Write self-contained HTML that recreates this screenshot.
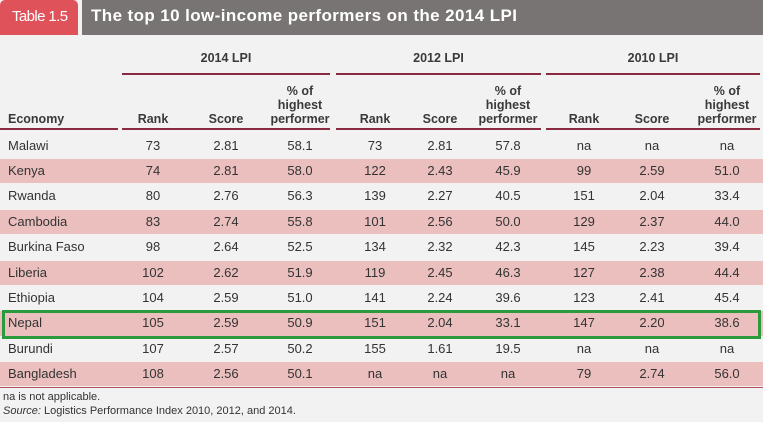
<!DOCTYPE html>
<html><head><meta charset="utf-8">
<style>
body{margin:0;width:763px;height:422px;background:#f3f2f2;position:relative;overflow:hidden;font-family:"Liberation Sans Narrow","Liberation Sans",sans-serif;color:#333;}
.a{position:absolute;white-space:nowrap;}
.h{font-weight:bold;font-size:12.5px;color:#3a3a3a;line-height:14px;}
.c{font-size:13px;}
.ln{position:absolute;height:1.5px;background:#8a2a40;}
</style></head>
<body>
<div class="a" style="left:0;top:0;width:78px;height:35px;background:#e0525a;border-radius:5px 5px 0 0;"></div>
<div class="a" style="left:12px;top:8px;color:#fff;font-size:15px;letter-spacing:-0.6px;">Table 1.5</div>
<div class="a" style="left:82px;top:0;width:681px;height:35px;background:#777473;"></div>
<div class="a" style="left:91px;top:6px;color:#fff;font-size:17px;font-weight:bold;font-family:'Liberation Sans',sans-serif;letter-spacing:0.4px;">The top 10 low-income performers on the 2014 LPI</div>
<div id="tbl"></div>
<div class="a" style="left:2px;top:310px;width:753px;height:23px;border:3px solid #2b9a3c;"></div>
<div class="a c" style="left:3px;top:391px;font-size:11px;">na is not applicable.</div>
<div class="a c" style="left:3px;top:405px;font-size:11px;"><i>Source:</i> Logistics Performance Index 2010, 2012, and 2014.</div>
<script>
const economies=["Malawi","Kenya","Rwanda","Cambodia","Burkina Faso","Liberia","Ethiopia","Nepal","Burundi","Bangladesh"];
const rank2014=["73","74","80","83","98","102","104","105","107","108"];
const score2014=["2.81","2.81","2.76","2.74","2.64","2.62","2.59","2.59","2.57","2.56"];
const pct2014=["58.1","58.0","56.3","55.8","52.5","51.9","51.0","50.9","50.2","50.1"];
const rank2012=["73","122","139","101","134","119","141","151","155","na"];
const score2012=["2.81","2.43","2.27","2.56","2.32","2.45","2.24","2.04","1.61","na"];
const pct2012=["57.8","45.9","40.5","50.0","42.3","46.3","39.6","33.1","19.5","na"];
const rank2010=["na","99","151","129","145","127","123","147","na","79"];
const score2010=["na","2.59","2.04","2.37","2.23","2.38","2.41","2.20","na","2.74"];
const pct2010=["na","51.0","33.4","44.0","39.4","44.4","45.4","38.6","na","56.0"];
const groups=["2014 LPI","2012 LPI","2010 LPI"];
const cols=[rank2014,score2014,pct2014,rank2012,score2012,pct2012,rank2010,score2010,pct2010];
const colNames=["rank-2014","score-2014","pct-2014","rank-2012","score-2012","pct-2012","rank-2010","score-2010","pct-2010"];
const T=document.getElementById('tbl');
function div(cls,style,txt){const d=document.createElement('div');d.className=cls;d.style.cssText=style;if(txt!==undefined)d.textContent=txt;T.appendChild(d);return d;}
const colCenter=[153,226,300,375,440,508,584,652,727];
const grp=[[122,330],[336,541],[546,760]];
const rowTop=133,pitch=25.4;
economies.forEach((e,i)=>{
  if(i%2===1){const b=div('a','left:0;top:'+(rowTop+i*pitch+0.5)+'px;width:763px;height:'+(pitch-1)+'px;background:#ecbfbf;');
  
  }
});
groups.forEach((g,k)=>{
  const t=div('a h','left:'+grp[k][0]+'px;width:'+(grp[k][1]-grp[k][0])+'px;top:51px;text-align:center;',g);
  
  
  const l=div('ln','left:'+grp[k][0]+'px;width:'+(grp[k][1]-grp[k][0])+'px;top:73px;');
  
  
  const l2=div('ln','left:'+grp[k][0]+'px;width:'+(grp[k][1]-grp[k][0])+'px;top:128px;');
  
  
  const hs=[["Rank"],["Score"],["% of","highest","performer"]];
  hs.forEach((h,j)=>{
    const ci=k*3+j;
    const d=div('a h','left:'+(colCenter[ci]-40)+'px;width:80px;text-align:center;top:'+(126-h.length*14)+'px;');
    d.innerHTML=h.join('<br>');
    
    
  });
});
const eh=div('a h','left:8px;top:112px;','Economy');


const el0=div('ln','left:0;width:118px;top:128px;');


const bl=div('ln','left:0;width:763px;top:387px;height:1px;background:#b05060;');


economies.forEach((e,i)=>{
  const y=rowTop+i*pitch+4.5;
  const n=div('a c','left:8px;top:'+y+'px;',e);
  
  
  cols.forEach((c,j)=>{
    const d=div('a c','left:'+(colCenter[j]-30)+'px;width:60px;text-align:center;top:'+y+'px;',c[i]);
    
    
  });
});
</script>
</body></html>
